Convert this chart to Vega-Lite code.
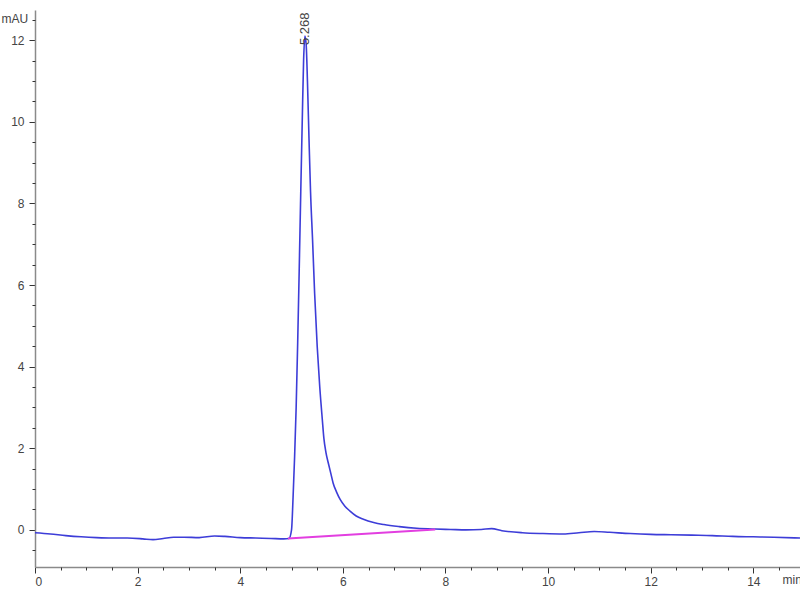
{
  "$schema": "https://vega.github.io/schema/vega-lite/v6.json",
  "width": 765,
  "height": 557,
  "autosize": {"type": "none"},
  "padding": {"left": 35, "top": 10, "right": 0, "bottom": 33},
  "background": "white",
  "config": {
    "view": {"stroke": null},
    "font": "Liberation Sans"
  },
  "datasets": {
    "signal": [
      {"t": 0, "v": -0.07}, {"t": 0.3, "v": -0.1}, {"t": 0.6, "v": -0.14}, {"t": 0.9, "v": -0.17},
      {"t": 1.2, "v": -0.19}, {"t": 1.5, "v": -0.2}, {"t": 1.8, "v": -0.2}, {"t": 2.1, "v": -0.22},
      {"t": 2.3, "v": -0.24}, {"t": 2.5, "v": -0.21}, {"t": 2.7, "v": -0.18}, {"t": 2.9, "v": -0.18},
      {"t": 3.2, "v": -0.19}, {"t": 3.5, "v": -0.15}, {"t": 3.7, "v": -0.16}, {"t": 4.0, "v": -0.19},
      {"t": 4.3, "v": -0.2}, {"t": 4.6, "v": -0.21}, {"t": 4.85, "v": -0.22}, {"t": 4.95, "v": -0.21},
      {"t": 5.0, "v": 0.0}, {"t": 5.03, "v": 0.8}, {"t": 5.06, "v": 1.8}, {"t": 5.09, "v": 3.0},
      {"t": 5.12, "v": 4.6}, {"t": 5.15, "v": 6.4}, {"t": 5.18, "v": 8.3}, {"t": 5.21, "v": 10.1},
      {"t": 5.235, "v": 11.5}, {"t": 5.26, "v": 12.1}, {"t": 5.285, "v": 11.9}, {"t": 5.31, "v": 11.0},
      {"t": 5.34, "v": 9.6}, {"t": 5.37, "v": 8.3}, {"t": 5.41, "v": 7.1}, {"t": 5.45, "v": 5.8},
      {"t": 5.5, "v": 4.5}, {"t": 5.55, "v": 3.5}, {"t": 5.6, "v": 2.7}, {"t": 5.63, "v": 2.25},
      {"t": 5.67, "v": 1.9}, {"t": 5.72, "v": 1.62}, {"t": 5.77, "v": 1.36}, {"t": 5.81, "v": 1.15},
      {"t": 5.88, "v": 0.92}, {"t": 5.95, "v": 0.74}, {"t": 6.04, "v": 0.58}, {"t": 6.14, "v": 0.46},
      {"t": 6.26, "v": 0.34}, {"t": 6.4, "v": 0.26}, {"t": 6.6, "v": 0.18}, {"t": 6.8, "v": 0.13},
      {"t": 7.1, "v": 0.08}, {"t": 7.44, "v": 0.04}, {"t": 7.8, "v": 0.02}, {"t": 8.1, "v": 0.01},
      {"t": 8.4, "v": 0.0}, {"t": 8.7, "v": 0.01}, {"t": 8.9, "v": 0.03}, {"t": 9.1, "v": -0.02},
      {"t": 9.5, "v": -0.07}, {"t": 9.9, "v": -0.09}, {"t": 10.3, "v": -0.1}, {"t": 10.6, "v": -0.07},
      {"t": 10.9, "v": -0.04}, {"t": 11.2, "v": -0.06}, {"t": 11.6, "v": -0.09}, {"t": 12.0, "v": -0.11},
      {"t": 12.4, "v": -0.12}, {"t": 12.8, "v": -0.13}, {"t": 13.2, "v": -0.14}, {"t": 13.6, "v": -0.16},
      {"t": 14.0, "v": -0.17}, {"t": 14.4, "v": -0.18}, {"t": 14.91, "v": -0.2}
    ],
    "baseline": [
      {"t": 4.93, "v": -0.21}, {"t": 7.8, "v": 0.01}
    ],
    "peaks": [
      {"t": 5.268, "v": 12.1, "label": "5.268"}
    ]
  },
  "resolve": {"axis": {"x": "independent", "y": "independent"}},
  "layer": [
    {
      "data": {"name": "signal"},
      "mark": {"type": "line", "color": "#3d3dd8", "strokeWidth": 1.6, "interpolate": "monotone", "clip": true},
      "encoding": {
        "x": {
          "field": "t", "type": "quantitative",
          "scale": {"domain": [0, 14.91], "nice": false, "zero": false},
          "axis": {
            "orient": "bottom",
            "values": [0, 2, 4, 6, 8, 10, 12, 14],
            "grid": false,
            "domainColor": "#8a8a8a", "domainWidth": 1.5,
            "tickColor": "#333", "tickSize": 6, "tickWidth": 1,
            "labelFontSize": 12, "labelColor": "#444", "labelPadding": 3,
            "title": "min", "titleFontSize": 12, "titleFontWeight": "normal", "titleColor": "#444",
            "titleAngle": 0, "titleAlign": "left", "titleBaseline": "middle",
            "titleX": 747, "titleY": 12
          }
        },
        "y": {
          "field": "v", "type": "quantitative",
          "scale": {"domain": [-0.91, 12.74], "nice": false, "zero": false},
          "axis": {
            "orient": "left",
            "values": [0, 2, 4, 6, 8, 10, 12],
            "grid": false,
            "domainColor": "#8a8a8a", "domainWidth": 1.5,
            "tickColor": "#333", "tickSize": 6, "tickWidth": 1,
            "labelFontSize": 12, "labelColor": "#444", "labelPadding": 5,
            "title": "mAU", "titleFontSize": 12, "titleFontWeight": "normal", "titleColor": "#444",
            "titleAngle": 0, "titleAlign": "left", "titleBaseline": "middle",
            "titleX": -34, "titleY": 8
          }
        }
      }
    },
    {
      "data": {"name": "baseline"},
      "mark": {"type": "line", "color": "#e23ee0", "strokeWidth": 2},
      "encoding": {
        "x": {
          "field": "t", "type": "quantitative",
          "axis": {
            "orient": "bottom",
            "values": [0.5, 1, 1.5, 2.5, 3, 3.5, 4.5, 5, 5.5, 6.5, 7, 7.5, 8.5, 9, 9.5, 10.5, 11, 11.5, 12.5, 13, 13.5, 14.5],
            "labels": false, "domain": false, "grid": false, "title": null,
            "tickColor": "#333", "tickSize": 3, "tickWidth": 1
          }
        },
        "y": {
          "field": "v", "type": "quantitative",
          "axis": {
            "orient": "left",
            "values": [-0.5, 0.5, 1, 1.5, 2.5, 3, 3.5, 4.5, 5, 5.5, 6.5, 7, 7.5, 8.5, 9, 9.5, 10.5, 11, 11.5, 12.5],
            "labels": false, "domain": false, "grid": false, "title": null,
            "tickColor": "#333", "tickSize": 3, "tickWidth": 1
          }
        }
      }
    },
    {
      "data": {"name": "peaks"},
      "mark": {"type": "text", "angle": 270, "align": "left", "baseline": "middle", "dx": -9, "fontSize": 13, "color": "#444"},
      "encoding": {
        "x": {"field": "t", "type": "quantitative", "axis": null},
        "y": {"field": "v", "type": "quantitative", "axis": null},
        "text": {"field": "label", "type": "nominal"}
      }
    }
  ]
}
